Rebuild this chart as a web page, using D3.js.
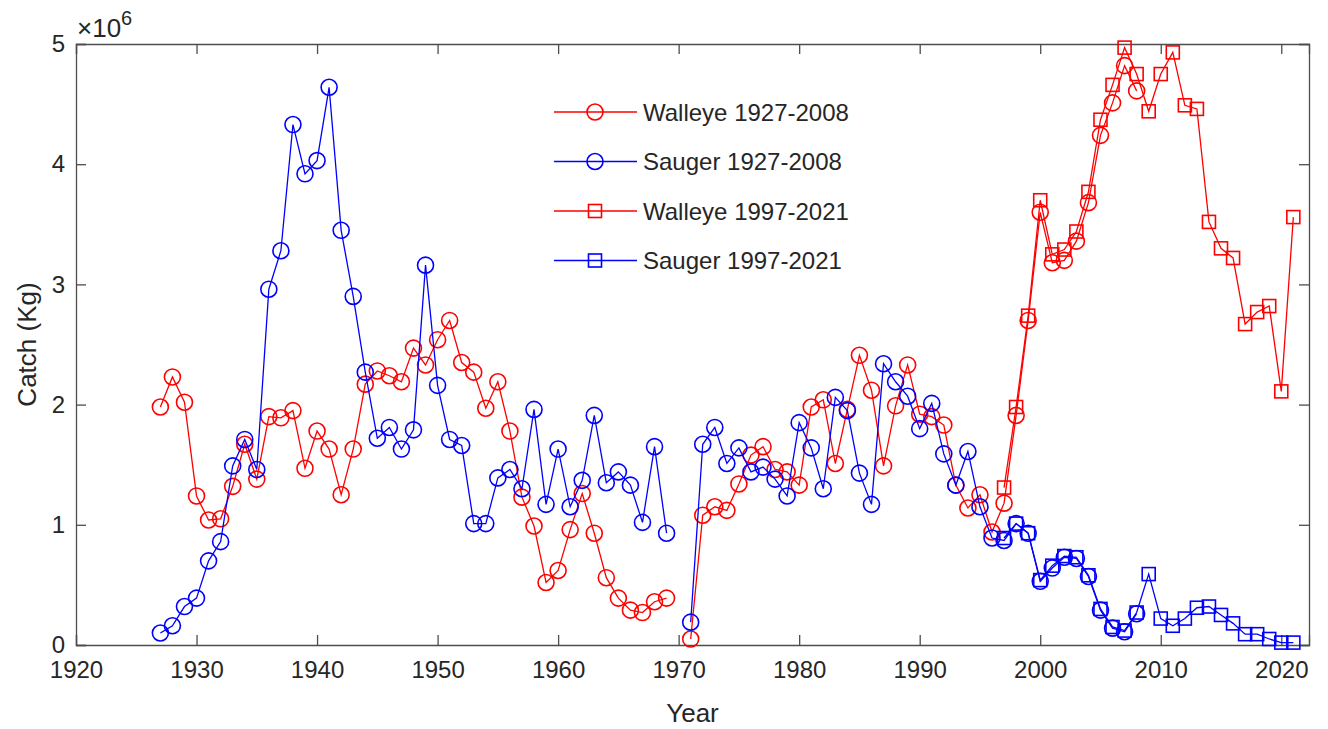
<!DOCTYPE html>
<html>
<head>
<meta charset="utf-8">
<script src="https://cdn.jsdelivr.net/npm/d3@7"></script>
<style>
  body { margin: 0; background: #fff; }
  svg text { font-family: "Liberation Sans", Arial, sans-serif; fill: #262626; }
</style>
</head>
<body>
<div class="grafico"></div>
<script>
var ancho = 1328;
var alto = 729;

// anios y capturas (millones de kg), null = sin dato (1970)
var aniosHist = d3.range(1927, 2009);
var walleyeHist = [
  1.98, 2.23, 2.02, 1.24, 1.04, 1.05, 1.32, 1.67, 1.38, 1.90,
  1.89, 1.95, 1.47, 1.78, 1.63, 1.25, 1.63, 2.17, 2.28, 2.24,
  2.19, 2.47, 2.33, 2.54, 2.70, 2.35, 2.27, 1.97, 2.19, 1.78,
  1.23, 0.99, 0.52, 0.62, 0.96, 1.26, 0.93, 0.56, 0.39, 0.29,
  0.27, 0.36, 0.39, null, 0.05, 1.08, 1.15, 1.12, 1.34, 1.58,
  1.65, 1.46, 1.44, 1.33, 1.98, 2.04, 1.51, 1.96, 2.41, 2.12,
  1.49, 1.99, 2.33, 1.92, 1.90, 1.83, 1.33, 1.14, 1.25, 0.94,
  1.18, 1.91, 2.70, 3.60, 3.18, 3.20, 3.36, 3.68, 4.24, 4.51,
  4.82, 4.61
];
var saugerHist = [
  0.10, 0.16, 0.32, 0.39, 0.70, 0.86, 1.49, 1.71, 1.46, 2.96,
  3.28, 4.33, 3.92, 4.03, 4.64, 3.45, 2.90, 2.27, 1.72, 1.81,
  1.63, 1.79, 3.16, 2.16, 1.71, 1.66, 1.01, 1.01, 1.39, 1.46,
  1.30, 1.96, 1.17, 1.63, 1.15, 1.37, 1.91, 1.35, 1.44, 1.33,
  1.02, 1.65, 0.93, null, 0.19, 1.67, 1.81, 1.51, 1.64, 1.44,
  1.48, 1.38, 1.24, 1.85, 1.64, 1.30, 2.06, 1.95, 1.43, 1.17,
  2.34, 2.19, 2.07, 1.80, 2.01, 1.59, 1.33, 1.61, 1.15, 0.89,
  0.87, 1.01, 0.93, 0.53, 0.64, 0.73, 0.72, 0.57, 0.29, 0.14,
  0.11, 0.26
];

var aniosNuevos = d3.range(1997, 2022);
var walleyeNuevo = [
  1.31, 1.98, 2.74, 3.70, 3.25, 3.29, 3.44, 3.77, 4.37, 4.66,
  4.97, 4.75, 4.44, 4.75, 4.93, 4.49, 4.46, 3.52, 3.30, 3.22,
  2.67, 2.77, 2.82, 2.11, 3.56
];
var saugerNuevo = [
  0.89, 1.01, 0.93, 0.54, 0.66, 0.74, 0.73, 0.58, 0.30, 0.15,
  0.12, 0.27, 0.59, 0.22, 0.16, 0.22, 0.31, 0.32, 0.25, 0.18,
  0.09, 0.09, 0.05, 0.02, 0.02
];

var ticksX = [1920, 1930, 1940, 1950, 1960, 1970, 1980, 1990, 2000, 2010, 2020];
var ticksY = [0, 1, 2, 3, 4, 5];

var series = [
  { nombre: 'Walleye 1927-2008', anios: aniosHist, valores: walleyeHist, color: '#ff0000', marca: 'circulo' },
  { nombre: 'Sauger 1927-2008', anios: aniosHist, valores: saugerHist, color: '#0000ff', marca: 'circulo' },
  { nombre: 'Walleye 1997-2021', anios: aniosNuevos, valores: walleyeNuevo, color: '#ff0000', marca: 'cuadrado' },
  { nombre: 'Sauger 1997-2021', anios: aniosNuevos, valores: saugerNuevo, color: '#0000ff', marca: 'cuadrado' }
];

var izq = 76, der = 1309, arriba = 44, abajo = 645;

var contenedor = d3.select('.grafico')
  .append('svg')
  .attr('width', ancho)
  .attr('height', alto);

const xScale = d3.scaleLinear().domain([1920, 2022.3]).range([izq, der]);
const yScale = d3.scaleLinear().domain([0, 5]).range([abajo, arriba]);

var colorEje = '#4d4d4d';

// ejes (ticks hacia dentro, caja cerrada)
var ejeX = contenedor.append('g')
  .attr('transform', 'translate(0,' + abajo + ')')
  .call(d3.axisBottom(xScale).tickValues(ticksX).tickFormat(d3.format('d')).tickSize(-10).tickPadding(16));
var ejeXArriba = contenedor.append('g')
  .attr('transform', 'translate(0,' + arriba + ')')
  .call(d3.axisTop(xScale).tickValues(ticksX).tickFormat('').tickSize(-10));
var ejeY = contenedor.append('g')
  .attr('transform', 'translate(' + izq + ',0)')
  .call(d3.axisLeft(yScale).tickValues(ticksY).tickFormat(d3.format('d')).tickSize(-10).tickPadding(11));
var ejeYDer = contenedor.append('g')
  .attr('transform', 'translate(' + der + ',0)')
  .call(d3.axisRight(yScale).tickValues(ticksY).tickFormat('').tickSize(-10));

[ejeX, ejeXArriba, ejeY, ejeYDer].forEach(function (g) {
  g.selectAll('path.domain').attr('stroke', colorEje).attr('stroke-width', 1.3);
  g.selectAll('.tick line').attr('stroke', colorEje).attr('stroke-width', 1.3);
  g.selectAll('.tick text')
    .style('font-family', '"Liberation Sans", Arial, sans-serif')
    .style('font-size', '24px')
    .attr('fill', '#262626');
});

// etiqueta exponente
var expo = contenedor.append('text')
  .attr('x', 77)
  .attr('y', 37)
  .style('font-size', '26px');
expo.append('tspan').text('\u00d710');
expo.append('tspan').attr('dy', -12).style('font-size', '20px').text('6');

contenedor.append('text')
  .attr('transform', 'translate(36,' + (arriba + abajo) / 2 + ') rotate(-90)')
  .attr('text-anchor', 'middle')
  .style('font-size', '26px')
  .text('Catch (Kg)');

contenedor.append('text')
  .attr('x', (izq + der) / 2)
  .attr('y', 722)
  .attr('text-anchor', 'middle')
  .style('font-size', '26px')
  .text('Year');

var linea = d3.line()
  .defined(function (d) { return d.v !== null; })
  .x(function (d) { return xScale(d.a); })
  .y(function (d) { return yScale(d.v); });

function dibujarMarca(g, tipo, color) {
  if (tipo === 'circulo') {
    g.append('circle').attr('r', 8);
  } else {
    g.append('rect').attr('x', -6.5).attr('y', -6.5).attr('width', 13).attr('height', 13);
  }
  g.selectAll('circle, rect')
    .attr('fill', 'none')
    .attr('stroke', color)
    .attr('stroke-width', 1.6);
}

series.forEach(function (s) {
  var puntos = s.anios.map(function (a, i) { return { a: a, v: s.valores[i] }; });

  contenedor.append('path')
    .datum(puntos)
    .attr('d', linea)
    .attr('fill', 'none')
    .attr('stroke', s.color)
    .attr('stroke-width', 1.3);

  contenedor.append('g')
    .selectAll('g')
    .data(puntos.filter(function (d) { return d.v !== null; }))
    .enter()
    .append('g')
    .attr('transform', function (d) {
      return 'translate(' + xScale(d.a) + ',' + yScale(d.v) + ')';
    })
    .each(function () { dibujarMarca(d3.select(this), s.marca, s.color); });
});

// leyenda
var leyenda = contenedor.append('g');
series.forEach(function (s, i) {
  var yl = 112 + i * 49.5;
  leyenda.append('line')
    .attr('x1', 554).attr('x2', 637)
    .attr('y1', yl).attr('y2', yl)
    .attr('stroke', s.color)
    .attr('stroke-width', 1.3);
  var m = leyenda.append('g').attr('transform', 'translate(595,' + yl + ')');
  dibujarMarca(m, s.marca, s.color);
  leyenda.append('text')
    .attr('x', 643)
    .attr('y', yl + 8.5)
    .style('font-size', '24px')
    .text(s.nombre);
});
</script>
</body>
</html>
